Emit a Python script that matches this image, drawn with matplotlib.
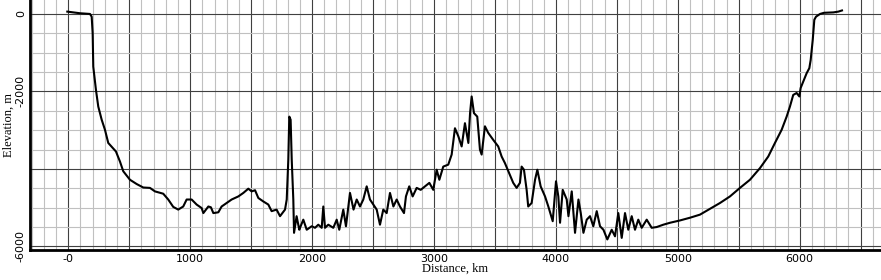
import numpy as np
import matplotlib
matplotlib.use("Agg")
import matplotlib.pyplot as plt

# profil : distance (km), altitude (m)
distance_km = [
    -8, 96, 178, 192, 200, 205, 227, 246, 274, 301, 328, 391, 424, 451, 506,
    561, 615, 670, 711, 779, 820, 861, 902, 943, 971, 1012, 1053, 1094, 1108,
    1149, 1170, 1190, 1231, 1258, 1299, 1340, 1395, 1436, 1477, 1504, 1532,
    1559, 1600, 1641, 1668, 1709, 1737, 1778, 1792, 1805, 1813, 1824, 1833,
    1846, 1852, 1873, 1895, 1901, 1928, 1956, 1997, 2024, 2051, 2079, 2092,
    2106, 2133, 2174, 2202, 2223, 2256, 2278, 2311, 2340, 2366, 2393, 2420,
    2448, 2475, 2530, 2557, 2584, 2612, 2639, 2667, 2694, 2721, 2754, 2770,
    2797, 2825, 2858, 2891, 2926, 2962, 2994, 3022, 3044, 3076, 3117, 3145,
    3172, 3200, 3227, 3254, 3282, 3296, 3309, 3328, 3355, 3377, 3391, 3418,
    3445, 3486, 3527, 3555, 3582, 3617, 3650, 3678, 3705, 3719, 3738, 3760,
    3773, 3801, 3829, 3848, 3875, 3911, 3938, 3974, 4001, 4020, 4034, 4056,
    4089, 4103, 4130, 4157, 4185, 4204, 4226, 4253, 4280, 4307, 4335, 4362,
    4390, 4422, 4458, 4485, 4512, 4540, 4567, 4594, 4622, 4649, 4676, 4704,
    4745, 4786, 4827, 4881, 4936, 5018, 5100, 5182, 5264, 5346, 5428, 5510,
    5592, 5674, 5742, 5797, 5852, 5893, 5920, 5947, 5975, 5997, 6008, 6030,
    6057, 6079, 6090, 6107, 6120, 6134, 6167, 6200, 6276, 6317, 6347,
]
elevation_m = [
    60, 18, 0, -70, -500, -1360, -1960, -2390, -2730, -2990, -3330, -3550,
    -3810, -4060, -4280, -4390, -4480, -4490, -4580, -4640, -4790, -4980,
    -5050, -4970, -4790, -4790, -4920, -5010, -5140, -4970, -4990, -5140,
    -5120, -4970, -4880, -4790, -4710, -4620, -4510, -4580, -4550, -4750,
    -4840, -4920, -5090, -5050, -5220, -5050, -4790, -3760, -2650, -2730,
    -3760, -4790, -5650, -5220, -5570, -5520, -5310, -5570, -5480, -5520,
    -5440, -5520, -4970, -5520, -5440, -5520, -5310, -5570, -5050, -5480,
    -4620, -5050, -4790, -4970, -4790, -4450, -4790, -5050, -5440, -5050,
    -5140, -4620, -4970, -4790, -4970, -5140, -4710, -4450, -4710, -4490,
    -4540, -4450, -4360, -4540, -4020, -4280, -3940, -3890, -3630, -2950,
    -3160, -3420, -2820, -3330, -2560, -2130, -2560, -2650, -3500, -3630,
    -2900, -3070, -3250, -3420, -3680, -3850, -4110, -4360, -4490, -4360,
    -3940, -4020, -4540, -4970, -4880, -4280, -4020, -4450, -4710, -4970,
    -5350, -4320, -4710, -5390, -4540, -4790, -5220, -4580, -5650, -4790,
    -5140, -5650, -5310, -5220, -5480, -5090, -5480, -5570, -5820, -5570,
    -5740, -5140, -5780, -5140, -5570, -5220, -5570, -5310, -5520, -5310,
    -5520, -5500, -5440, -5390, -5330, -5260, -5180, -5030, -4880, -4710,
    -4490, -4280, -3980, -3680, -3330, -2990, -2650, -2390, -2090, -2040,
    -2130, -1910, -1740, -1530, -1400, -1190, -670, -150, -70, 0, 30, 40,
    60, 90,
]

x_ticks = [0, 500, 1000, 1500, 2000, 2500, 3000, 3500, 4000, 4500, 5000, 5500, 6000, 6500]
x_tick_labels = ["-0", "", "1000", "", "2000", "", "3000", "", "4000", "", "5000", "", "6000", ""]
y_ticks = [0, -2000, -4000, -6000]
y_tick_labels = ["0", "-2000", "", "-6000"]

fig = plt.figure(figsize=(8.81, 2.80), dpi=100)
ax = fig.add_axes([30 / 881, 30.5 / 280, 1 - 30 / 881, 1 - 30.5 / 280])

ax.plot(distance_km, elevation_m, color="black", lw=1.5, zorder=3)

ax.set_xlim(-314, 6667)
ax.set_ylim(-6080, 360)

ax.set_xticks(x_ticks)
ax.set_xticklabels(x_tick_labels, fontsize=8, family="DejaVu Sans")
ax.set_xticks(np.arange(-300, 6667, 100), minor=True)
ax.set_yticks(y_ticks)
ax.set_yticklabels(y_tick_labels, fontsize=8, family="DejaVu Sans",
                   rotation=90, va="center")
ax.set_yticks(np.arange(-6000, 361, 500), minor=True)

ax.tick_params(which="both", length=0)
ax.tick_params(axis="x", pad=3)
ax.tick_params(axis="y", pad=3)

ax.grid(which="minor", color="#c0c0c0", lw=0.8, zorder=1)
ax.grid(which="major", color="#404040", lw=0.8, zorder=2)

for s in ["top", "right"]:
    ax.spines[s].set_visible(False)
for s in ["left", "bottom"]:
    ax.spines[s].set_linewidth(2)
    ax.spines[s].set_color("black")

ax.set_xlabel("Distance, km", family="Liberation Serif", fontsize=9, labelpad=-1)
ax.set_ylabel("Elevation, m", family="Liberation Serif", fontsize=9, labelpad=1)

fig.savefig("out.png", dpi=100)
